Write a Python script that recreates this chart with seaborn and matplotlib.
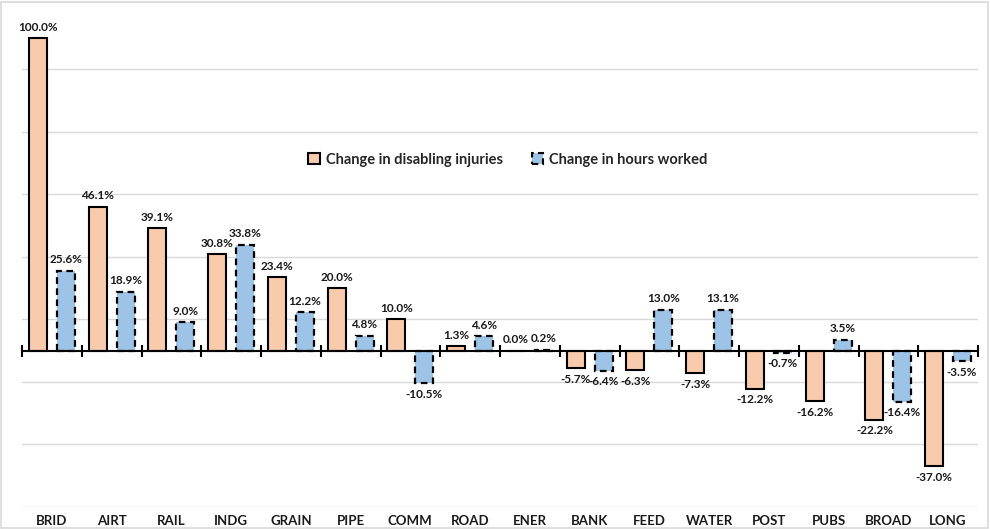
import numpy as np
import pandas as pd
import matplotlib
matplotlib.use("Agg")
import matplotlib.pyplot as plt
import matplotlib.patches as mpatches
import seaborn as sns

# ---- data ----
categories = ["BRID", "AIRT", "RAIL", "INDG", "GRAIN", "PIPE", "COMM", "ROAD",
              "ENER", "BANK", "FEED", "WATER", "POST", "PUBS", "BROAD", "LONG"]
injuries = [100.0, 46.1, 39.1, 30.8, 23.4, 20.0, 10.0, 1.3,
            0.0, -5.7, -6.3, -7.3, -12.2, -16.2, -22.2, -37.0]
hours = [25.6, 18.9, 9.0, 33.8, 12.2, 4.8, -10.5, 4.6,
         0.2, -6.4, 13.0, 13.1, -0.7, 3.5, -16.4, -3.5]
series_names = ["Change in disabling injuries", "Change in hours worked"]

ORANGE = "#F8CBAD"
BLUE = "#9DC3E6"

sns.set_theme(style="white")
plt.rcParams['font.family'] = ['Lato', 'DejaVu Sans']

df = pd.DataFrame({
    "cat": categories * 2,
    "val": injuries + hours,
    "series": [series_names[0]] * len(categories) + [series_names[1]] * len(categories),
})

fig = plt.figure(figsize=(9.9, 5.29), dpi=100)
ax = fig.add_axes([22 / 990, 0.042, (978 - 22) / 990, 0.945])

sns.barplot(data=df, x="cat", y="val", hue="series", order=categories,
            hue_order=series_names, palette=[ORANGE, BLUE], saturation=1,
            width=0.933, gap=0.357, ax=ax, legend=False, errorbar=None,
            edgecolor="black", linewidth=1.5)

# dashed outline on the hours bars
for bar in ax.containers[1]:
    bar.set_linestyle((0, (3, 2)))
    bar.set_linewidth(1.6)

for cont, vals in zip(ax.containers, [injuries, hours]):
    ax.bar_label(cont, labels=[f"{v:.1f}%" for v in vals], padding=4,
                 fontsize=8.5, fontweight="bold", color="#1a1a1a")

ax.set_ylim(-50, 110)
ax.set_xlim(-0.5, len(categories) - 0.5)
ax.set_yticks(np.arange(-50, 100, 20))
ax.yaxis.grid(True, color="#D9D9D9", linewidth=1)
ax.set_axisbelow(True)
ax.tick_params(axis="y", length=0, labelleft=False)
ax.set_xlabel("")
ax.set_ylabel("")
for s in ["top", "right", "left"]:
    ax.spines[s].set_visible(False)

# category axis crosses at zero with ticks between categories
ax.spines["bottom"].set_position(("data", 0))
ax.spines["bottom"].set_color("black")
ax.spines["bottom"].set_linewidth(1.5)
ax.set_xticks(np.arange(-0.5, len(categories), 1.0))
ax.tick_params(axis="x", direction="inout", length=8, width=1.5,
               color="black", labelbottom=False, bottom=True)

# labels at the bottom of the plot area
sec = ax.secondary_xaxis(0)
sec.set_xticks(range(len(categories)), labels=categories)
sec.tick_params(length=0, labelsize=9.5, pad=6)
for lab in sec.get_xticklabels():
    lab.set_fontweight("bold")
    lab.set_color("#1a1a1a")
sec.spines["bottom"].set_visible(False)

handles = [mpatches.Patch(facecolor=ORANGE, edgecolor="black", linewidth=1.5),
           mpatches.Patch(facecolor=BLUE, edgecolor="black", linewidth=1.5,
                          linestyle=(0, (3, 2)))]
fig.legend(handles, series_names, loc="center", bbox_to_anchor=(0.513, 0.698),
           ncol=2, frameon=False, handlelength=0.8, handleheight=0.8,
           handletextpad=0.4, columnspacing=2.0,
           prop={"size": 10.5, "weight": "bold"})

fig.patches.append(mpatches.Rectangle((0.001, 0.002), 0.997, 0.995,
                                      transform=fig.transFigure, fill=False,
                                      edgecolor="#D9D9D9", linewidth=1.2))

fig.savefig("out.png", dpi=100)
